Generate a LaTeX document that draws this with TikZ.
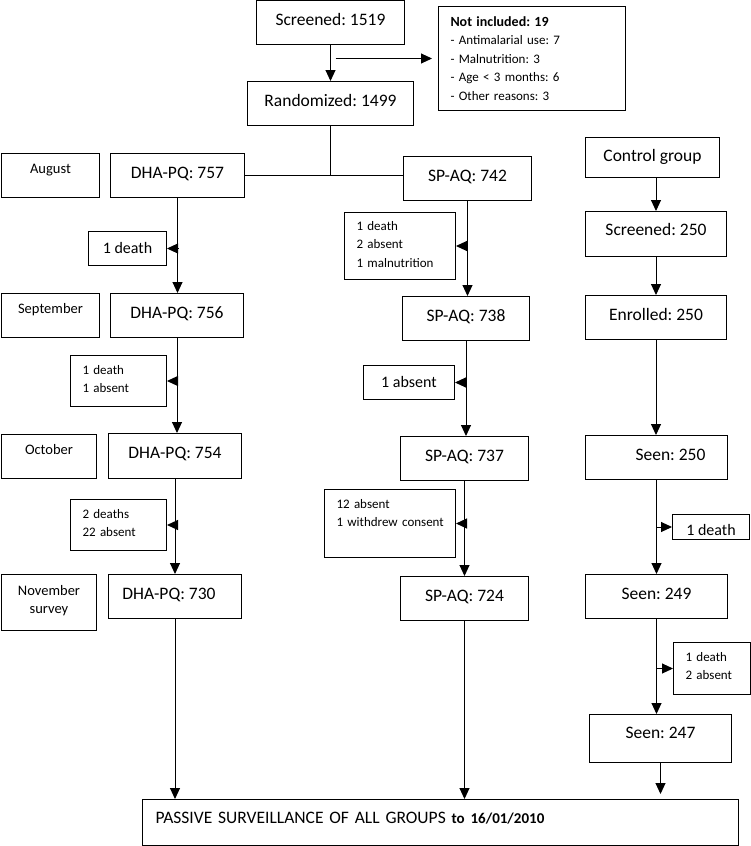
\documentclass[tikz,border=0pt]{standalone}
\usepackage{fontspec}
\setmainfont{Carlito}
\frenchspacing
\usetikzlibrary{arrows.meta,positioning,calc}
\tikzset{
  box/.style={draw=black,line width=1pt,inner xsep=0pt,inner ysep=0pt,anchor=north west},
  armbox/.style={box,font=\fontsize{17.5}{21}\selectfont,text height=24.5pt},
  monthbox/.style={box,font=\fontsize{14.5}{18}\selectfont,text height=20pt,align=center},
  lossbox/.style={box,font=\fontsize{16}{19}\selectfont,text height=22pt},
  notebox/.style={box,font=\fontsize{13}{18.4}\selectfont,inner xsep=12pt,align=left,text height=19pt},
  flow/.style={-{Triangle[length=11pt,width=10pt]},line width=1pt},
  link/.style={line width=1pt},
}

\begin{document}
\begin{tikzpicture}[x=1pt,y=-1pt]
\path[use as bounding box,fill=white] (0,0) rectangle (750,846);

\node[armbox,minimum width=148pt,text depth=19.5pt] (scr) at (256,0) {Screened: 1519};
\node[armbox,minimum width=166pt,text depth=19.5pt] (rand) at (247,81) {Randomized: 1499};
\node[notebox,text width=163pt,text height=20pt,text depth=84pt] (notinc) at (438,6)
  {{\bfseries\fontsize{14}{18.4}\selectfont Not included: 19}\\- Antimalarial use: 7\\- Malnutrition: 3\\- Age < 3 months: 6\\- Other reasons: 3};

\node[monthbox,text width=98pt,text depth=24pt] (aug) at (1,153) {August};
\node[monthbox,text width=98pt,text depth=24pt] (sept) at (1,293) {September};
\node[monthbox,text width=95pt,text depth=24pt] (oct) at (1,434) {October};
\node[monthbox,text width=95pt,text height=21pt,text depth=35pt] (nov) at (1,574) {November\\survey};

\node[armbox,minimum width=134pt,text depth=19.5pt] (dha757) at (110,153) {DHA-PQ: 757};
\node[armbox,minimum width=133pt,text depth=19.5pt] (dha756) at (110,293) {DHA-PQ: 756};
\node[armbox,minimum width=133pt,text depth=20.5pt] (dha754) at (108,433) {DHA-PQ: 754};
\node[armbox,minimum width=133pt,text depth=19.5pt] (dha730) at (108,574) {DHA-PQ: 730\hspace*{12pt}};

\node[lossbox,minimum width=78pt,text depth=12pt] (dhaloss1) at (88,231) {1 death};
\node[notebox,text width=72pt,text depth=32pt] (dhaloss2) at (70,355) {1 death\\1 absent};
\node[notebox,text width=72pt,text depth=32pt] (dhaloss3) at (70,499) {2 deaths\\22 absent};

\node[armbox,minimum width=128pt,text depth=19.5pt] (sp742) at (403,156) {SP-AQ: 742};
\node[armbox,minimum width=127pt,text depth=19.5pt] (sp738) at (402,296) {SP-AQ: 738};
\node[armbox,minimum width=128pt,text depth=19.5pt] (sp737) at (400,436) {SP-AQ: 737};
\node[armbox,minimum width=128pt,text depth=19.5pt] (sp724) at (400,576) {SP-AQ: 724};

\node[notebox,text width=87pt,text height=18pt,text depth=49pt] (sploss1) at (344,212) {1 death\\2 absent\\1 malnutrition};
\node[lossbox,minimum width=91pt,text depth=12pt] (sploss2) at (363,365) {1 absent};
\node[notebox,text width=107pt,text depth=49pt] (sploss3) at (324,489) {12 absent\\\mbox{1 withdrew consent}};

\node[armbox,minimum width=134pt,text height=24pt,text depth=16pt] (ctrl) at (585,137) {Control group};
\node[armbox,minimum width=141pt,text height=24pt,text depth=21pt] (ctrlscr) at (585,211) {Screened: 250};
\node[armbox,minimum width=141pt,text depth=19.5pt] (ctrlenr) at (585,295) {Enrolled: 250};
\node[armbox,minimum width=142pt,text depth=19.5pt] (seen250) at (585,435) {\hspace*{28pt}Seen: 250};
\node[armbox,minimum width=142pt,text depth=19.5pt] (seen249) at (585,574) {Seen: 249};
\node[armbox,minimum width=142pt,text height=24pt,text depth=24pt] (seen247) at (589,714) {Seen: 247};

\node[lossbox,minimum width=77pt,text height=21pt,text depth=4pt] (ctrlloss1) at (672,514) {1 death};
\node[notebox,text width=53pt,text depth=33pt] (ctrlloss2) at (673,642) {1 death\\2 absent};

\node[box,font=\fontsize{17.5}{21}\selectfont,inner xsep=13pt,text width=570pt,align=left,text height=24pt,text depth=22pt] (pass) at (142,799)
  {PASSIVE SURVEILLANCE OF ALL GROUPS {\bfseries\fontsize{15}{18}\selectfont to 16/01/2010}};

\draw[flow] (scr.south) -- (rand.north);
\draw[flow,shorten <=5pt,shorten >=6pt] (scr.south |- notinc.west) -- (notinc.west);
\coordinate (split) at (rand.south |- dha757.east);
\draw[link] (rand.south) -- (split);
\draw[link] (dha757.east) -- (dha757.east -| sp742.west);

\draw[flow] (dha757.south) -- (dha757.south |- dha756.north);
\draw[flow] (dha756.south) -- (dha756.south |- dha754.north);
\draw[flow] (dha754.south) -- (dha754.south |- dha730.north);
\draw[flow] (dha730.south) -- (dha730.south |- pass.north);
\draw[flow] (dha757.south |- dhaloss1.east) -- (dhaloss1.east);
\draw[flow] (dha756.south |- dhaloss2.east) -- (dhaloss2.east);
\draw[flow] (dha754.south |- dhaloss3.east) -- (dhaloss3.east);

\draw[flow] (sp742.south) -- (sp742.south |- sp738.north);
\draw[flow] (sp738.south) -- (sp738.south |- sp737.north);
\draw[flow] (sp737.south) -- (sp737.south |- sp724.north);
\draw[flow] (sp724.south) -- (sp724.south |- pass.north);
\draw[flow] (sp742.south |- sploss1.east) -- (sploss1.east);
\draw[flow] (sp738.south |- sploss2.east) -- (sploss2.east);
\draw[flow] (sp737.south |- sploss3.east) -- (sploss3.east);

\draw[flow] (ctrlscr.north |- ctrl.south) -- (ctrlscr.north);
\draw[flow] (ctrlscr.south) -- (ctrlscr.south |- ctrlenr.north);
\draw[flow] (ctrlenr.south) -- (ctrlenr.south |- seen250.north);
\draw[flow] (seen250.south) -- (seen250.south |- seen249.north);
\draw[flow] (seen249.south) -- (seen249.south |- seen247.north);
\draw[flow,shorten >=5pt] (seen247.south) -- (seen247.south |- pass.north);
\draw[flow] (seen250.south |- ctrlloss1.west) -- (ctrlloss1.west);
\draw[flow] (seen249.south |- ctrlloss2.west) -- (ctrlloss2.west);
\end{tikzpicture}
\end{document}
